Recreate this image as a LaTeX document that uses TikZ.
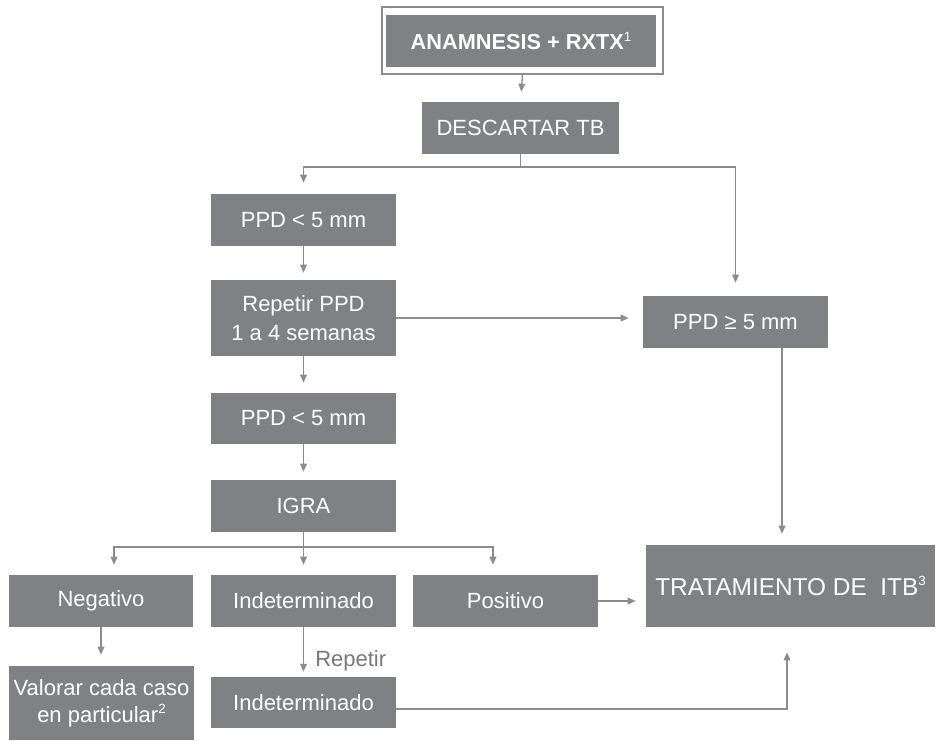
\documentclass[tikz,border=0pt]{standalone}
\usepackage{fontspec}
\setmainfont{Liberation Sans}
\usetikzlibrary{arrows.meta,calc}
\definecolor{boxgray}{RGB}{128,129,133}
\definecolor{linegray}{RGB}{140,140,143}
\definecolor{labgray}{RGB}{120,120,124}
\newcommand\mysup[1]{\raisebox{0.4em}{\normalfont\fontsize{10}{10}\selectfont #1}}
\begin{document}
\begin{tikzpicture}[x=0.75pt,y=-0.75pt,
  wh/.style 2 args={minimum width=#1*0.75pt, minimum height=#2*0.75pt},
  bx/.style={fill=boxgray, text=white, inner sep=0pt, align=center, font=\fontsize{16.5}{22}\selectfont},
  line/.style={draw=linegray, line width=1pt},
  arr/.style={line, -{Triangle[length=6pt,width=5pt]}, shorten >=7.5pt}
]
\useasboundingbox (0,0) rectangle (937,740);
% nodes
\node[draw=linegray, line width=1pt, fill=white, wh={281}{67}, inner sep=0pt] (frame) at (522.5,40.5) {};
\node[bx, wh={270}{52}, font=\bfseries\fontsize{16.3}{20}\selectfont] (top) at (521,41) {ANAMNESIS + RXTX\mysup{1}};
\node[bx, wh={197}{52}] (desc) at (520.5,128) {DESCARTAR TB};
\node[bx, wh={185}{52}] (ppd1) at (303.5,220) {PPD < 5 mm};
\node[bx, wh={185}{76}] (rep) at (303.5,318) {Repetir PPD\\1 a 4 semanas};
\node[bx, wh={185}{52}] (ppdge) at (735.5,322) {PPD ≥ 5 mm};
\node[bx, wh={185}{51}] (ppd2) at (303.5,418.5) {PPD < 5 mm};
\node[bx, wh={185}{52}] (igra) at (303.5,506) {IGRA};
\node[bx, wh={184}{52}] (neg) at (101,601) {Negativo};
\node[bx, wh={185}{52}] (ind1) at (303.5,601) {Indeterminado};
\node[bx, wh={185}{52}] (pos) at (505.5,601) {Positivo};
\node[bx, wh={289}{82}, font=\fontsize{18.3}{22}\selectfont] (trat) at (790.5,586) {TRATAMIENTO DE~~ITB\mysup{3}};
\node[bx, wh={185}{74}, font=\fontsize{16.5}{20}\selectfont] (val) at (101.5,703) {Valorar cada caso\\en particular\mysup{2}};
\node[bx, wh={185}{51}] (ind2) at (303.5,702.5) {Indeterminado};
\node[anchor=west, inner sep=0pt, text=labgray, font=\fontsize{16.5}{20}\selectfont] (replab) at (315,661) {Repetir};
% connectors
\coordinate (bj) at (520.5,167);
\coordinate (ij) at (303.5,547);
\draw[arr] (frame.south) -- (desc.north);
\draw[line] (desc.south) -- (bj);
\draw[arr, shorten >=8.25pt] (bj) -| (ppd1.north);
\draw[arr, shorten >=9.75pt] (bj) -| (ppdge.north);
\draw[arr, shorten >=5.25pt] (ppd1.south) -- (rep.north);
\draw[arr, shorten >=10.5pt] (rep.east) -- (rep.east -| ppdge.west);
\draw[arr] (rep.south) -- (ppd2.north);
\draw[arr, shorten >=6pt] (ppd2.south) -- (igra.north);
\draw[line] (igra.south) -- (ij);
\coordinate (negin) at ([xshift=9.75pt]neg.north);
\coordinate (posin) at ([xshift=-9.4pt]pos.north);
\draw[arr] (ij) -| (negin);
\draw[arr] (ij) -- (ind1.north);
\draw[arr] (ij) -| (posin);
\draw[arr, shorten >=8.25pt] (neg.south) -- (neg.south |- val.north);
\draw[arr, shorten >=3.75pt] (ind1.south) -- (ind2.north);
\draw[arr] (pos.east) -- (pos.east -| trat.west);
\coordinate (pgb) at ([xshift=34.9pt]ppdge.south);
\draw[arr, shorten >=8.25pt] (pgb) -- (pgb |- trat.north);
\coordinate (i2e) at ([yshift=-4.9pt]ind2.east);
\coordinate (tsb) at ([xshift=-2.6pt]trat.south);
\draw[arr, shorten >=18.75pt] (i2e) -| (tsb);
\end{tikzpicture}
\end{document}
